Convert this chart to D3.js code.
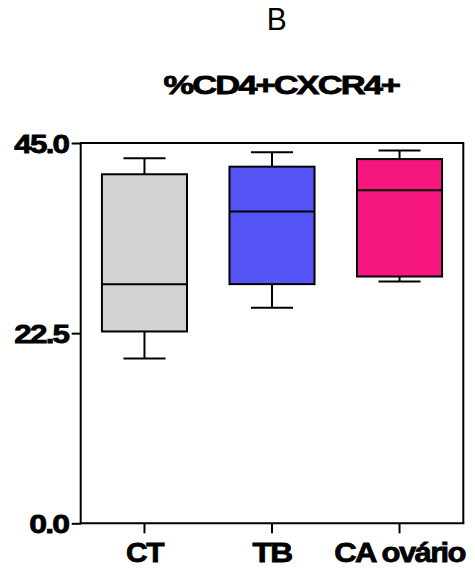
<!DOCTYPE html>
<html>
<head>
<meta charset="utf-8">
<script src="https://cdn.jsdelivr.net/npm/d3@7"></script>
<style>
  html, body { margin: 0; padding: 0; background: #fff; }
  svg { display: block; }
  text { font-family: "Liberation Sans", Arial, sans-serif; fill: #000; }
  .heavy { stroke: #000; stroke-width: 0.8px; }
</style>
</head>
<body>
<div id="chart"></div>
<script>
// Groups and their box-plot summaries (% CD4+CXCR4+ cells)
const categories = ["CT", "TB", "CA ovário"];
const whiskerLow  = [19.5, 25.5, 28.6];
const quartile1   = [22.7, 28.3, 29.2];
const medians     = [28.3, 36.9, 39.4];
const quartile3   = [41.3, 42.2, 43.1];
const whiskerHigh = [43.2, 43.9, 44.1];
const boxColors   = ["#D3D3D3", "#5555F6", "#F5167F"];
const yTickValues = [0, 22.5, 45];

const panelLetter = "B";
const title = "%CD4+CXCR4+";

const W = 475, H = 572;
const plotLeft = 80.7, plotRight = 463.3, plotTop = 143, plotBottom = 523.3;

const svg = d3.select("#chart").append("svg")
  .attr("width", W).attr("height", H);

const x = d3.scaleBand().domain(categories).range([plotLeft, plotRight]).padding(0);
const y = d3.scaleLinear().domain([0, 45]).range([plotBottom, plotTop]);

const rows = categories.map((c, i) => ({
  cat: c, lo: whiskerLow[i], q1: quartile1[i], med: medians[i],
  q3: quartile3[i], hi: whiskerHigh[i], color: boxColors[i]
}));

// Widen a label horizontally so it spans the given width, keeping its height.
function stretch(node, width, tx, ty) {
  const w = node.getBBox().width;
  const s = width / w;
  d3.select(node).attr("x", 0).attr("y", 0)
    .attr("transform", `translate(${tx},${ty}) scale(${s},1)`);
}

// Panel letter and title
const letter = svg.append("text")
  .attr("text-anchor", "middle")
  .attr("font-size", 31)
  .text(panelLetter);
stretch(letter.node(), 20, 276.7, 30);

const titleText = svg.append("text")
  .attr("class", "heavy")
  .attr("text-anchor", "middle")
  .attr("font-size", 26.5).attr("font-weight", "bold")
  .attr("letter-spacing", -1.5)
  .text(title);
stretch(titleText.node(), 237, 281.3, 94);

// Frame: top and right edges
svg.append("path")
  .attr("d", `M${plotLeft},${y(45)}H${plotRight}V${plotBottom}`)
  .attr("fill", "none").attr("stroke", "#000").attr("stroke-width", 2);

// Boxes
const bw = x.bandwidth() * 0.667;
const cw = x.bandwidth() * 0.33;
const g = svg.append("g").selectAll("g").data(rows).join("g")
  .attr("transform", d => `translate(${x(d.cat) + x.bandwidth() / 2},0)`);

g.append("line")
  .attr("x1", 0).attr("x2", 0)
  .attr("y1", d => y(d.hi)).attr("y2", d => y(d.q3))
  .attr("stroke", "#000").attr("stroke-width", 2);
g.append("line")
  .attr("x1", 0).attr("x2", 0)
  .attr("y1", d => y(d.q1)).attr("y2", d => y(d.lo))
  .attr("stroke", "#000").attr("stroke-width", 2);
g.append("line")
  .attr("x1", -cw / 2).attr("x2", cw / 2)
  .attr("y1", d => y(d.hi)).attr("y2", d => y(d.hi))
  .attr("stroke", "#000").attr("stroke-width", 2);
g.append("line")
  .attr("x1", -cw / 2).attr("x2", cw / 2)
  .attr("y1", d => y(d.lo)).attr("y2", d => y(d.lo))
  .attr("stroke", "#000").attr("stroke-width", 2);
g.append("rect")
  .attr("x", -bw / 2).attr("width", bw)
  .attr("y", d => y(d.q3)).attr("height", d => y(d.q1) - y(d.q3))
  .attr("fill", d => d.color)
  .attr("stroke", "#000").attr("stroke-width", 2);
g.append("line")
  .attr("x1", -bw / 2).attr("x2", bw / 2)
  .attr("y1", d => y(d.med)).attr("y2", d => y(d.med))
  .attr("stroke", "#000").attr("stroke-width", 2);

// Y axis
const yLabelWidths = { "0.0": 40, "22.5": 55, "45.0": 55 };
const yAxis = svg.append("g")
  .attr("transform", `translate(${plotLeft},0)`)
  .call(d3.axisLeft(y).tickValues(yTickValues).tickFormat(d3.format(".1f"))
    .tickSize(9).tickPadding(3).tickSizeOuter(0));
yAxis.select(".domain").attr("stroke-width", 2).attr("d", `M0,${plotTop - 1}V${plotBottom + 1}`);
yAxis.selectAll(".tick line").attr("stroke-width", 2);
yAxis.selectAll(".tick text")
  .attr("class", "heavy")
  .attr("font-family", "Liberation Sans, Arial, sans-serif")
  .attr("font-size", 26.5).attr("font-weight", "bold")
  .attr("fill", "#000")
  .attr("letter-spacing", -1.5)
  .attr("dy", "0.35em")
  .each(function () { stretch(this, yLabelWidths[this.textContent], -12.4, 0); });

// X axis
const xLabelWidths = { "CT": 39, "TB": 40, "CA ovário": 132 };
const xAxis = svg.append("g")
  .attr("transform", `translate(0,${plotBottom})`)
  .call(d3.axisBottom(x).tickSize(10).tickSizeOuter(0));
xAxis.select(".domain").attr("stroke-width", 2).attr("d", `M${plotLeft - 1},0H${plotRight + 1}`);
xAxis.selectAll(".tick line").attr("stroke-width", 2);
xAxis.selectAll(".tick text")
  .attr("class", "heavy")
  .attr("font-family", "Liberation Sans, Arial, sans-serif")
  .attr("font-size", 28.5).attr("font-weight", "bold")
  .attr("fill", "#000")
  .attr("letter-spacing", -1.5)
  .attr("dy", 0)
  .each(function () { stretch(this, xLabelWidths[this.textContent], 0, 38.5); });
</script>
</body>
</html>
